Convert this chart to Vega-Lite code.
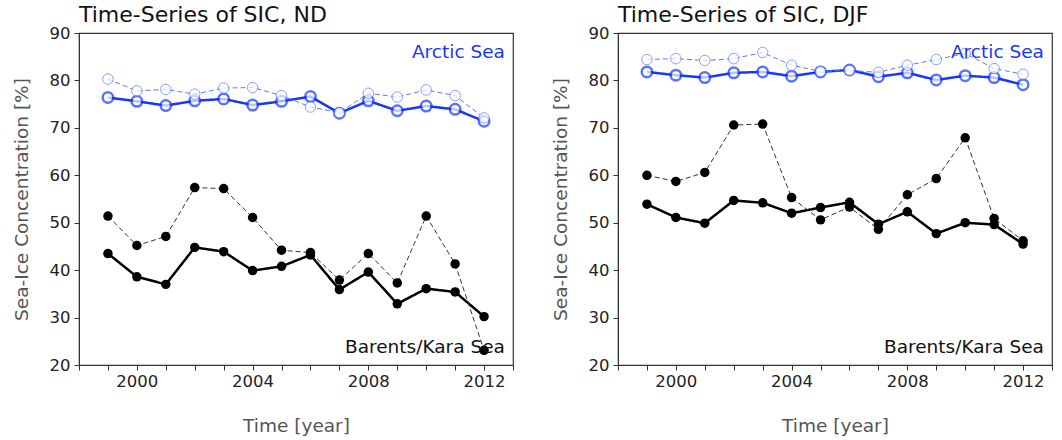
{
  "$schema": "https://vega.github.io/schema/vega-lite/v6.json",
  "background": "white",
  "padding": {"left": 11, "top": 3, "right": 5, "bottom": 2},
  "spacing": 35,
  "config": {
    "font": "DejaVu Sans",
    "view": {"stroke": "#333333", "strokeWidth": 1.2},
    "axis": {
      "grid": false,
      "domainColor": "#333333",
      "tickColor": "#333333",
      "tickSize": 5,
      "labelFont": "DejaVu Sans",
      "labelFontSize": 16.5,
      "labelColor": "#222222",
      "titleFont": "DejaVu Sans",
      "titleFontSize": 18.5,
      "titleFontWeight": "normal",
      "titleColor": "#555555"
    },
    "title": {"font": "DejaVu Sans", "fontSize": 22, "fontWeight": "normal", "anchor": "start", "color": "#111111", "offset": -2}
  },
  "datasets": {
    "sic": [
      {"season": "ND", "s": "Arctic solid", "kind": "solid", "year": 1999, "sic": 76.4},
      {"season": "ND", "s": "Arctic solid", "kind": "solid", "year": 2000, "sic": 75.6},
      {"season": "ND", "s": "Arctic solid", "kind": "solid", "year": 2001, "sic": 74.7},
      {"season": "ND", "s": "Arctic solid", "kind": "solid", "year": 2002, "sic": 75.7},
      {"season": "ND", "s": "Arctic solid", "kind": "solid", "year": 2003, "sic": 76.1},
      {"season": "ND", "s": "Arctic solid", "kind": "solid", "year": 2004, "sic": 74.8},
      {"season": "ND", "s": "Arctic solid", "kind": "solid", "year": 2005, "sic": 75.6},
      {"season": "ND", "s": "Arctic solid", "kind": "solid", "year": 2006, "sic": 76.6},
      {"season": "ND", "s": "Arctic solid", "kind": "solid", "year": 2007, "sic": 73.1},
      {"season": "ND", "s": "Arctic solid", "kind": "solid", "year": 2008, "sic": 75.7},
      {"season": "ND", "s": "Arctic solid", "kind": "solid", "year": 2009, "sic": 73.6},
      {"season": "ND", "s": "Arctic solid", "kind": "solid", "year": 2010, "sic": 74.6},
      {"season": "ND", "s": "Arctic solid", "kind": "solid", "year": 2011, "sic": 73.9},
      {"season": "ND", "s": "Arctic solid", "kind": "solid", "year": 2012, "sic": 71.4},
      {"season": "ND", "s": "Arctic dashed", "kind": "dashed", "year": 1999, "sic": 80.3},
      {"season": "ND", "s": "Arctic dashed", "kind": "dashed", "year": 2000, "sic": 77.8},
      {"season": "ND", "s": "Arctic dashed", "kind": "dashed", "year": 2001, "sic": 78.1},
      {"season": "ND", "s": "Arctic dashed", "kind": "dashed", "year": 2002, "sic": 77.1},
      {"season": "ND", "s": "Arctic dashed", "kind": "dashed", "year": 2003, "sic": 78.4},
      {"season": "ND", "s": "Arctic dashed", "kind": "dashed", "year": 2004, "sic": 78.5},
      {"season": "ND", "s": "Arctic dashed", "kind": "dashed", "year": 2005, "sic": 76.8},
      {"season": "ND", "s": "Arctic dashed", "kind": "dashed", "year": 2006, "sic": 74.4},
      {"season": "ND", "s": "Arctic dashed", "kind": "dashed", "year": 2007, "sic": 73.2},
      {"season": "ND", "s": "Arctic dashed", "kind": "dashed", "year": 2008, "sic": 77.3},
      {"season": "ND", "s": "Arctic dashed", "kind": "dashed", "year": 2009, "sic": 76.5},
      {"season": "ND", "s": "Arctic dashed", "kind": "dashed", "year": 2010, "sic": 78.0},
      {"season": "ND", "s": "Arctic dashed", "kind": "dashed", "year": 2011, "sic": 76.8},
      {"season": "ND", "s": "Arctic dashed", "kind": "dashed", "year": 2012, "sic": 72.1},
      {"season": "ND", "s": "BK solid", "kind": "solid", "year": 1999, "sic": 43.5},
      {"season": "ND", "s": "BK solid", "kind": "solid", "year": 2000, "sic": 38.6},
      {"season": "ND", "s": "BK solid", "kind": "solid", "year": 2001, "sic": 37.0},
      {"season": "ND", "s": "BK solid", "kind": "solid", "year": 2002, "sic": 44.8},
      {"season": "ND", "s": "BK solid", "kind": "solid", "year": 2003, "sic": 43.9},
      {"season": "ND", "s": "BK solid", "kind": "solid", "year": 2004, "sic": 39.9},
      {"season": "ND", "s": "BK solid", "kind": "solid", "year": 2005, "sic": 40.8},
      {"season": "ND", "s": "BK solid", "kind": "solid", "year": 2006, "sic": 43.2},
      {"season": "ND", "s": "BK solid", "kind": "solid", "year": 2007, "sic": 35.9},
      {"season": "ND", "s": "BK solid", "kind": "solid", "year": 2008, "sic": 39.6},
      {"season": "ND", "s": "BK solid", "kind": "solid", "year": 2009, "sic": 32.9},
      {"season": "ND", "s": "BK solid", "kind": "solid", "year": 2010, "sic": 36.1},
      {"season": "ND", "s": "BK solid", "kind": "solid", "year": 2011, "sic": 35.4},
      {"season": "ND", "s": "BK solid", "kind": "solid", "year": 2012, "sic": 30.2},
      {"season": "ND", "s": "BK dashed", "kind": "dashed", "year": 1999, "sic": 51.4},
      {"season": "ND", "s": "BK dashed", "kind": "dashed", "year": 2000, "sic": 45.2},
      {"season": "ND", "s": "BK dashed", "kind": "dashed", "year": 2001, "sic": 47.1},
      {"season": "ND", "s": "BK dashed", "kind": "dashed", "year": 2002, "sic": 57.4},
      {"season": "ND", "s": "BK dashed", "kind": "dashed", "year": 2003, "sic": 57.2},
      {"season": "ND", "s": "BK dashed", "kind": "dashed", "year": 2004, "sic": 51.1},
      {"season": "ND", "s": "BK dashed", "kind": "dashed", "year": 2005, "sic": 44.2},
      {"season": "ND", "s": "BK dashed", "kind": "dashed", "year": 2006, "sic": 43.7},
      {"season": "ND", "s": "BK dashed", "kind": "dashed", "year": 2007, "sic": 37.9},
      {"season": "ND", "s": "BK dashed", "kind": "dashed", "year": 2008, "sic": 43.5},
      {"season": "ND", "s": "BK dashed", "kind": "dashed", "year": 2009, "sic": 37.3},
      {"season": "ND", "s": "BK dashed", "kind": "dashed", "year": 2010, "sic": 51.4},
      {"season": "ND", "s": "BK dashed", "kind": "dashed", "year": 2011, "sic": 41.3},
      {"season": "ND", "s": "BK dashed", "kind": "dashed", "year": 2012, "sic": 23.1},
      {"season": "DJF", "s": "Arctic solid", "kind": "solid", "year": 1999, "sic": 81.8},
      {"season": "DJF", "s": "Arctic solid", "kind": "solid", "year": 2000, "sic": 81.1},
      {"season": "DJF", "s": "Arctic solid", "kind": "solid", "year": 2001, "sic": 80.6},
      {"season": "DJF", "s": "Arctic solid", "kind": "solid", "year": 2002, "sic": 81.6},
      {"season": "DJF", "s": "Arctic solid", "kind": "solid", "year": 2003, "sic": 81.8},
      {"season": "DJF", "s": "Arctic solid", "kind": "solid", "year": 2004, "sic": 80.9},
      {"season": "DJF", "s": "Arctic solid", "kind": "solid", "year": 2005, "sic": 81.8},
      {"season": "DJF", "s": "Arctic solid", "kind": "solid", "year": 2006, "sic": 82.2},
      {"season": "DJF", "s": "Arctic solid", "kind": "solid", "year": 2007, "sic": 80.8},
      {"season": "DJF", "s": "Arctic solid", "kind": "solid", "year": 2008, "sic": 81.6},
      {"season": "DJF", "s": "Arctic solid", "kind": "solid", "year": 2009, "sic": 80.1},
      {"season": "DJF", "s": "Arctic solid", "kind": "solid", "year": 2010, "sic": 81.0},
      {"season": "DJF", "s": "Arctic solid", "kind": "solid", "year": 2011, "sic": 80.6},
      {"season": "DJF", "s": "Arctic solid", "kind": "solid", "year": 2012, "sic": 79.1},
      {"season": "DJF", "s": "Arctic dashed", "kind": "dashed", "year": 1999, "sic": 84.4},
      {"season": "DJF", "s": "Arctic dashed", "kind": "dashed", "year": 2000, "sic": 84.6},
      {"season": "DJF", "s": "Arctic dashed", "kind": "dashed", "year": 2001, "sic": 84.2},
      {"season": "DJF", "s": "Arctic dashed", "kind": "dashed", "year": 2002, "sic": 84.6},
      {"season": "DJF", "s": "Arctic dashed", "kind": "dashed", "year": 2003, "sic": 85.9},
      {"season": "DJF", "s": "Arctic dashed", "kind": "dashed", "year": 2004, "sic": 83.2},
      {"season": "DJF", "s": "Arctic dashed", "kind": "dashed", "year": 2005, "sic": 81.9},
      {"season": "DJF", "s": "Arctic dashed", "kind": "dashed", "year": 2006, "sic": 82.1},
      {"season": "DJF", "s": "Arctic dashed", "kind": "dashed", "year": 2007, "sic": 81.7},
      {"season": "DJF", "s": "Arctic dashed", "kind": "dashed", "year": 2008, "sic": 83.2},
      {"season": "DJF", "s": "Arctic dashed", "kind": "dashed", "year": 2009, "sic": 84.4},
      {"season": "DJF", "s": "Arctic dashed", "kind": "dashed", "year": 2010, "sic": 85.7},
      {"season": "DJF", "s": "Arctic dashed", "kind": "dashed", "year": 2011, "sic": 82.5},
      {"season": "DJF", "s": "Arctic dashed", "kind": "dashed", "year": 2012, "sic": 81.3},
      {"season": "DJF", "s": "BK solid", "kind": "solid", "year": 1999, "sic": 53.9},
      {"season": "DJF", "s": "BK solid", "kind": "solid", "year": 2000, "sic": 51.1},
      {"season": "DJF", "s": "BK solid", "kind": "solid", "year": 2001, "sic": 49.9},
      {"season": "DJF", "s": "BK solid", "kind": "solid", "year": 2002, "sic": 54.7},
      {"season": "DJF", "s": "BK solid", "kind": "solid", "year": 2003, "sic": 54.2},
      {"season": "DJF", "s": "BK solid", "kind": "solid", "year": 2004, "sic": 52.0},
      {"season": "DJF", "s": "BK solid", "kind": "solid", "year": 2005, "sic": 53.2},
      {"season": "DJF", "s": "BK solid", "kind": "solid", "year": 2006, "sic": 54.3},
      {"season": "DJF", "s": "BK solid", "kind": "solid", "year": 2007, "sic": 49.7},
      {"season": "DJF", "s": "BK solid", "kind": "solid", "year": 2008, "sic": 52.3},
      {"season": "DJF", "s": "BK solid", "kind": "solid", "year": 2009, "sic": 47.7},
      {"season": "DJF", "s": "BK solid", "kind": "solid", "year": 2010, "sic": 50.0},
      {"season": "DJF", "s": "BK solid", "kind": "solid", "year": 2011, "sic": 49.6},
      {"season": "DJF", "s": "BK solid", "kind": "solid", "year": 2012, "sic": 45.5},
      {"season": "DJF", "s": "BK dashed", "kind": "dashed", "year": 1999, "sic": 60.0},
      {"season": "DJF", "s": "BK dashed", "kind": "dashed", "year": 2000, "sic": 58.7},
      {"season": "DJF", "s": "BK dashed", "kind": "dashed", "year": 2001, "sic": 60.6},
      {"season": "DJF", "s": "BK dashed", "kind": "dashed", "year": 2002, "sic": 70.6},
      {"season": "DJF", "s": "BK dashed", "kind": "dashed", "year": 2003, "sic": 70.8},
      {"season": "DJF", "s": "BK dashed", "kind": "dashed", "year": 2004, "sic": 55.3},
      {"season": "DJF", "s": "BK dashed", "kind": "dashed", "year": 2005, "sic": 50.6},
      {"season": "DJF", "s": "BK dashed", "kind": "dashed", "year": 2006, "sic": 53.3},
      {"season": "DJF", "s": "BK dashed", "kind": "dashed", "year": 2007, "sic": 48.6},
      {"season": "DJF", "s": "BK dashed", "kind": "dashed", "year": 2008, "sic": 55.9},
      {"season": "DJF", "s": "BK dashed", "kind": "dashed", "year": 2009, "sic": 59.3},
      {"season": "DJF", "s": "BK dashed", "kind": "dashed", "year": 2010, "sic": 67.9},
      {"season": "DJF", "s": "BK dashed", "kind": "dashed", "year": 2011, "sic": 50.9},
      {"season": "DJF", "s": "BK dashed", "kind": "dashed", "year": 2012, "sic": 46.2}
    ],
    "labels": [
      {"name": "Arctic Sea", "group": "Arctic", "year": 2012.72, "sic": 86.0},
      {"name": "Barents/Kara Sea", "group": "BK", "year": 2012.72, "sic": 23.9}
    ]
  },
  "hconcat": [
    {
      "title": {"text": "Time-Series of SIC, ND", "frame": "group"},
      "width": 434,
      "height": 332,
      "data": {"name": "sic"},
      "transform": [{"filter": "datum.season === 'ND'"}],
      "encoding": {
        "x": {"field": "year", "type": "quantitative", "scale": {"domain": [1998, 2013], "nice": false, "zero": false},
          "axis": {"title": "Time [year]", "values": [1998, 1999, 2000, 2001, 2002, 2003, 2004, 2005, 2006, 2007, 2008, 2009, 2010, 2011, 2012, 2013], "format": "d", "labelExpr": "datum.value % 4 === 0 && datum.value > 1998 && datum.value < 2013 ? datum.label : ''", "labelPadding": 3, "titlePadding": 27, "labelFlush": false, "labelOverlap": false}},
        "y": {"field": "sic", "type": "quantitative", "scale": {"domain": [20, 90], "nice": false, "zero": false},
          "axis": {"title": "Sea-Ice Concentration [%]", "values": [20, 30, 40, 50, 60, 70, 80, 90], "labelPadding": 4, "titlePadding": 18}}
      },
      "layer": [
        {
          "mark": {"type": "line"},
          "encoding": {
            "detail": {"field": "s"},
            "color": {"field": "s", "type": "nominal", "legend": null, "scale": {"domain": ["Arctic solid", "Arctic dashed", "BK solid", "BK dashed"], "range": ["#1438ff", "#5a78ff", "#000000", "#333333"]}},
            "strokeDash": {"field": "kind", "type": "nominal", "legend": null, "scale": {"domain": ["solid", "dashed"], "range": [[1, 0], [5, 3]]}},
            "strokeWidth": {"field": "kind", "type": "nominal", "legend": null, "scale": {"domain": ["solid", "dashed"], "range": [2.5, 1]}}
          }
        },
        {
          "transform": [{"filter": "datum.s === 'Arctic solid' || datum.s === 'Arctic dashed'"}],
          "mark": {"type": "point", "shape": "circle", "filled": true, "fill": "white", "size": 110},
          "encoding": {
            "stroke": {"field": "s", "type": "nominal", "legend": null, "scale": {"domain": ["Arctic solid", "Arctic dashed"], "range": ["#1438ff", "#5a78ff"]}},
            "strokeWidth": {"field": "kind", "type": "nominal", "legend": null, "scale": {"domain": ["solid", "dashed"], "range": [2.6, 1.3]}}
          }
        },
        {
          "transform": [{"filter": "datum.s === 'BK solid' || datum.s === 'BK dashed'"}],
          "mark": {"type": "circle", "color": "#000000", "opacity": 1, "size": 90},
          "encoding": {}
        },
        {
          "data": {"name": "labels"},
          "transform": [{"filter": "datum.group === 'Arctic'"}],
          "mark": {"type": "text", "align": "right", "baseline": "middle", "fontSize": 18.5, "color": "#1438ff"},
          "encoding": {"text": {"field": "name"}}
        },
        {
          "data": {"name": "labels"},
          "transform": [{"filter": "datum.group === 'BK'"}],
          "mark": {"type": "text", "align": "right", "baseline": "middle", "fontSize": 18.5, "color": "#111111"},
          "encoding": {"text": {"field": "name"}}
        }
      ]
    },
    {
      "title": {"text": "Time-Series of SIC, DJF", "frame": "group"},
      "width": 434,
      "height": 332,
      "data": {"name": "sic"},
      "transform": [{"filter": "datum.season === 'DJF'"}],
      "encoding": {
        "x": {"field": "year", "type": "quantitative", "scale": {"domain": [1998, 2013], "nice": false, "zero": false},
          "axis": {"title": "Time [year]", "values": [1998, 1999, 2000, 2001, 2002, 2003, 2004, 2005, 2006, 2007, 2008, 2009, 2010, 2011, 2012, 2013], "format": "d", "labelExpr": "datum.value % 4 === 0 && datum.value > 1998 && datum.value < 2013 ? datum.label : ''", "labelPadding": 3, "titlePadding": 27, "labelFlush": false, "labelOverlap": false}},
        "y": {"field": "sic", "type": "quantitative", "scale": {"domain": [20, 90], "nice": false, "zero": false},
          "axis": {"title": "Sea-Ice Concentration [%]", "values": [20, 30, 40, 50, 60, 70, 80, 90], "labelPadding": 4, "titlePadding": 18}}
      },
      "layer": [
        {
          "mark": {"type": "line"},
          "encoding": {
            "detail": {"field": "s"},
            "color": {"field": "s", "type": "nominal", "legend": null, "scale": {"domain": ["Arctic solid", "Arctic dashed", "BK solid", "BK dashed"], "range": ["#1438ff", "#5a78ff", "#000000", "#333333"]}},
            "strokeDash": {"field": "kind", "type": "nominal", "legend": null, "scale": {"domain": ["solid", "dashed"], "range": [[1, 0], [5, 3]]}},
            "strokeWidth": {"field": "kind", "type": "nominal", "legend": null, "scale": {"domain": ["solid", "dashed"], "range": [2.5, 1]}}
          }
        },
        {
          "transform": [{"filter": "datum.s === 'Arctic solid' || datum.s === 'Arctic dashed'"}],
          "mark": {"type": "point", "shape": "circle", "filled": true, "fill": "white", "size": 110},
          "encoding": {
            "stroke": {"field": "s", "type": "nominal", "legend": null, "scale": {"domain": ["Arctic solid", "Arctic dashed"], "range": ["#1438ff", "#5a78ff"]}},
            "strokeWidth": {"field": "kind", "type": "nominal", "legend": null, "scale": {"domain": ["solid", "dashed"], "range": [2.6, 1.3]}}
          }
        },
        {
          "transform": [{"filter": "datum.s === 'BK solid' || datum.s === 'BK dashed'"}],
          "mark": {"type": "circle", "color": "#000000", "opacity": 1, "size": 90},
          "encoding": {}
        },
        {
          "data": {"name": "labels"},
          "transform": [{"filter": "datum.group === 'Arctic'"}],
          "mark": {"type": "text", "align": "right", "baseline": "middle", "fontSize": 18.5, "color": "#1438ff"},
          "encoding": {"text": {"field": "name"}}
        },
        {
          "data": {"name": "labels"},
          "transform": [{"filter": "datum.group === 'BK'"}],
          "mark": {"type": "text", "align": "right", "baseline": "middle", "fontSize": 18.5, "color": "#111111"},
          "encoding": {"text": {"field": "name"}}
        }
      ]
    }
  ]
}
